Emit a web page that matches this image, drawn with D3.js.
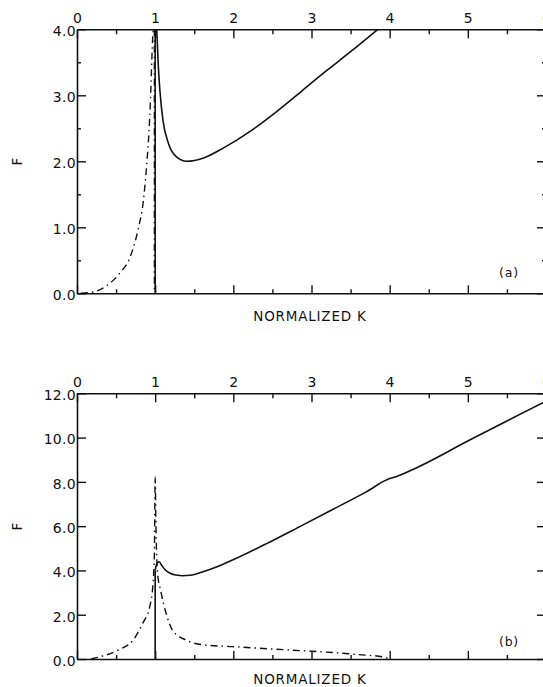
<!DOCTYPE html>
<html>
<head>
<meta charset="utf-8">
<script src="https://cdn.jsdelivr.net/npm/d3@7"></script>
<style>
  body { margin: 0; background: #fff; }
  svg { display: block; }
  .tick text { font-family: "DejaVu Sans", sans-serif; font-size: 14px; fill: #111; letter-spacing: 0.3px; }
  .domain { stroke: #111; stroke-width: 1.6; }
  .tick line { stroke: #111; stroke-width: 1.4; }
  .lbl { font-family: "DejaVu Sans", sans-serif; font-size: 13.5px; fill: #111; letter-spacing: 0.8px; }
</style>
</head>
<body>
<svg width="543" height="687"></svg>
<script>
// x ticks shared by both panels
var kMajor = [0, 1, 2, 3, 4, 5, 6];
var kMinor = [0.5, 1.5, 2.5, 3.5, 4.5, 5.5];

// panel (a)
var aMajorF = [0, 1, 2, 3, 4];
var aMinorF = [0.5, 1.5, 2.5, 3.5];
var aVertK = [1.0, 1.0];
var aVertF = [0, 4.0];
var aSolidK = [1.02, 1.04, 1.06, 1.10, 1.17, 1.27, 1.40, 1.62, 1.87, 2.21, 2.55, 2.89, 3.20, 3.50, 3.85];
var aSolidF = [4.00, 3.45, 3.08, 2.62, 2.27, 2.07, 2.00, 2.05, 2.20, 2.45, 2.75, 3.08, 3.38, 3.66, 4.00];
var aDashK = [0.05, 0.21, 0.36, 0.55, 0.68, 0.78, 0.85, 0.89, 0.92, 0.94, 0.967, 0.975];
var aDashF = [0.00, 0.02, 0.10, 0.31, 0.55, 0.96, 1.41, 1.92, 2.43, 2.93, 3.84, 4.00];
var aDash2K = [0.99, 0.99];
var aDash2F = [4.0, 0];

// panel (b)
var bMajorF = [0, 2, 4, 6, 8, 10, 12];
var bVertK = [1.0, 1.0];
var bVertF = [0, 4.0];
var bSolidK = [1.0, 1.02, 1.05, 1.08, 1.13, 1.19, 1.27, 1.35, 1.45, 1.61, 1.80, 1.99, 2.42, 2.85, 3.27, 3.70, 4.00, 4.07, 4.26, 5.03, 5.50, 6.00];
var bSolidF = [4.0, 4.30, 4.39, 4.25, 4.02, 3.87, 3.79, 3.76, 3.78, 3.94, 4.18, 4.47, 5.20, 5.98, 6.75, 7.55, 8.15, 8.22, 8.50, 9.90, 10.75, 11.65];
var bDashK = [0.18, 0.25, 0.53, 0.72, 0.84, 0.93, 0.97, 0.99, 1.0, 1.01, 1.03, 1.07, 1.14, 1.22, 1.39, 1.64, 1.99, 2.5, 3.0, 3.32, 3.6, 3.91, 4.0];
var bDashF = [0.00, 0.06, 0.41, 0.86, 1.61, 2.36, 3.30, 4.80, 8.23, 6.00, 3.90, 3.10, 2.06, 1.31, 0.86, 0.63, 0.56, 0.45, 0.35, 0.28, 0.20, 0.10, 0.00];

var svg = d3.select('svg');
var x = d3.scaleLinear().domain([0, 6]).range([77, 546]);
var dashStyle = '7,4,1.5,4';

function zip(ks, fs) { return ks.map(function(k, i) { return [k, fs[i]]; }); }

function drawPanel(id, y, majorF, minorF, fmt, series, tag, tagY, labelY) {
    var top = y.range()[1], bottom = y.range()[0];
    var g = svg.append('g');

    svg.append('clipPath').attr('id', 'clip-' + id)
        .append('rect')
        .attr('x', x(0)).attr('y', top)
        .attr('width', x(6) - x(0)).attr('height', bottom - top);

    // top axis with labels, ticks inward
    g.append('g').attr('transform', 'translate(0,' + top + ')')
        .call(d3.axisTop(x).tickValues(kMajor).tickSizeInner(-9).tickSizeOuter(0).tickPadding(6).tickFormat(d3.format('d')));
    g.append('g').attr('transform', 'translate(0,' + top + ')')
        .call(d3.axisTop(x).tickValues(kMinor).tickSizeInner(-5).tickSizeOuter(0).tickFormat(''))
        .select('.domain').remove();

    // bottom axis, no labels
    g.append('g').attr('transform', 'translate(0,' + bottom + ')')
        .call(d3.axisBottom(x).tickValues(kMajor).tickSizeInner(-8).tickSizeOuter(0).tickFormat(''));
    g.append('g').attr('transform', 'translate(0,' + bottom + ')')
        .call(d3.axisBottom(x).tickValues(kMinor).tickSizeInner(-4).tickSizeOuter(0).tickFormat(''))
        .select('.domain').remove();

    // left axis
    var left = g.append('g').attr('transform', 'translate(' + x(0) + ',0)')
        .call(d3.axisLeft(y).tickValues(majorF).tickSizeInner(-9).tickSizeOuter(0).tickPadding(1).tickFormat(fmt));
    left.selectAll('.tick text').attr('dy', '0.45em');
    if (minorF.length) {
        g.append('g').attr('transform', 'translate(' + x(0) + ',0)')
            .call(d3.axisLeft(y).tickValues(minorF).tickSizeInner(-4).tickSizeOuter(0).tickFormat(''))
            .select('.domain').remove();
    }

    // right axis
    g.append('g').attr('transform', 'translate(' + x(6) + ',0)')
        .call(d3.axisRight(y).tickValues(majorF).tickSizeInner(-9).tickSizeOuter(0).tickFormat(''));
    if (minorF.length) {
        g.append('g').attr('transform', 'translate(' + x(6) + ',0)')
            .call(d3.axisRight(y).tickValues(minorF).tickSizeInner(-4).tickSizeOuter(0).tickFormat(''))
            .select('.domain').remove();
    }

    var plot = svg.append('g').attr('clip-path', 'url(#clip-' + id + ')');
    series.forEach(function(s) {
        var line = d3.line()
            .x(function(d) { return x(d[0]); })
            .y(function(d) { return y(d[1]); })
            .curve(s.curve || d3.curveLinear);
        plot.append('path')
            .datum(zip(s.k, s.f))
            .attr('d', line)
            .attr('fill', 'none')
            .attr('stroke', '#111')
            .attr('stroke-width', s.dash ? 1.4 : 1.6)
            .attr('stroke-dasharray', s.dash ? dashStyle : null);
    });

    svg.append('text').attr('class', 'lbl')
        .attr('fill', '#111')
        .attr('transform', 'translate(22,' + ((top + bottom) / 2) + ') rotate(-90)')
        .attr('text-anchor', 'middle')
        .text('F');

    svg.append('text').attr('class', 'lbl')
        .attr('x', 310).attr('y', labelY)
        .attr('text-anchor', 'middle')
        .text('NORMALIZED K');

    svg.append('text').attr('class', 'lbl')
        .attr('x', 509).attr('y', tagY)
        .attr('text-anchor', 'middle')
        .style('font-size', '12.5px')
        .text(tag);
}

var yA = d3.scaleLinear().domain([0, 4]).range([293.3, 29.3]);
drawPanel('a', yA, aMajorF, aMinorF, d3.format('.1f'), [
    {k: aVertK, f: aVertF},
    {k: aSolidK, f: aSolidF, curve: d3.curveMonotoneX},
    {k: aDashK, f: aDashF, curve: d3.curveMonotoneX, dash: true},
    {k: aDash2K, f: aDash2F, dash: true}
], '(a)', 277, 321);

var yB = d3.scaleLinear().domain([0, 12]).range([659, 393.3]);
drawPanel('b', yB, bMajorF, [], d3.format('.1f'), [
    {k: bVertK, f: bVertF},
    {k: bSolidK, f: bSolidF, curve: d3.curveMonotoneX},
    {k: bDashK, f: bDashF, curve: d3.curveMonotoneX, dash: true}
], '(b)', 646, 684);
</script>
</body>
</html>
